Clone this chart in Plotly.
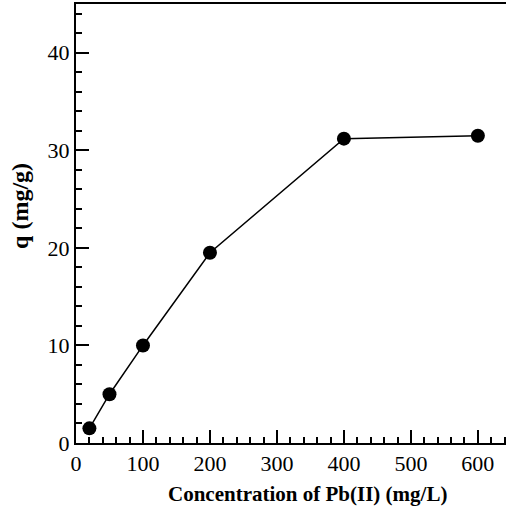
import plotly.graph_objects as go

concentration = [20, 50, 100, 200, 400, 600]
q_values = [1.5, 5.0, 10.0, 19.5, 31.2, 31.5]

x_ticks = [0, 100, 200, 300, 400, 500, 600]
y_ticks = [0, 10, 20, 30, 40]

fig = go.Figure()
fig.add_trace(go.Scatter(
    x=concentration, y=q_values, mode="lines+markers",
    line=dict(color="black", width=1.5),
    marker=dict(color="black", size=14),
    showlegend=False, cliponaxis=False,
))

font_family = "Liberation Serif, Times New Roman, serif"
fig.update_layout(
    width=506, height=510,
    margin=dict(l=76, r=0, t=4, b=67),
    plot_bgcolor="white", paper_bgcolor="white",
    font=dict(family=font_family, color="black", size=22),
)
fig.update_xaxes(
    range=[0, 642], tickvals=x_ticks, ticks="inside", ticklen=13, tickwidth=2,
    tickcolor="black", showline=True, linecolor="black", linewidth=2,
    mirror=True, showgrid=False, zeroline=False,
    minor=dict(dtick=20, ticks="inside", ticklen=6, tickwidth=2, tickcolor="black", showgrid=False),
    tickfont=dict(size=22),
)
fig.update_yaxes(
    range=[0, 45], tickvals=y_ticks, ticks="inside", ticklen=13, tickwidth=2,
    tickcolor="black", showline=True, linecolor="black", linewidth=2,
    showgrid=False, zeroline=False,
    minor=dict(dtick=2, ticks="inside", ticklen=6, tickwidth=2, tickcolor="black", showgrid=False),
    tickfont=dict(size=22),
)
fig.add_annotation(
    text="<b>Concentration of Pb(II) (mg/L)</b>", xref="paper", yref="paper",
    x=0.538, y=-51 / 438.5, xanchor="center", yanchor="middle",
    showarrow=False, font=dict(size=21),
)
fig.add_annotation(
    text="<b>q (mg/g)</b>", xref="paper", yref="paper",
    x=-56 / 430, y=0.54, xanchor="center", yanchor="middle", textangle=-90,
    showarrow=False, font=dict(size=24),
)

fig.write_html("out.html")
